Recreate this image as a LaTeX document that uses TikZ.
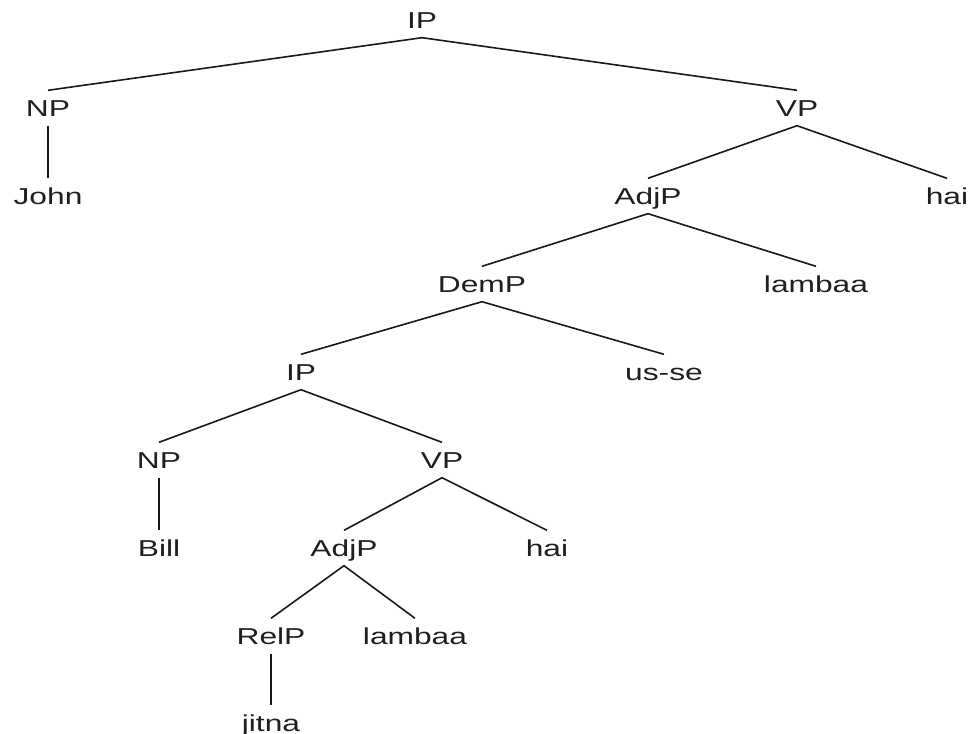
\documentclass[tikz,border=0pt]{standalone}
\usepackage{fontspec}
\setmainfont{Liberation Sans}[FakeStretch=1.38]
\begin{document}
\begin{tikzpicture}[x=1pt,y=-1pt,
  cat/.style={inner sep=0pt, minimum height=35pt, text height=16.5pt, text depth=0pt,
              font=\fontsize{23}{27}\selectfont, text=black!88},
  edge/.style={line width=1.6pt, black!90}]
  \useasboundingbox (0,0) rectangle (971,733);

  % phrase labels and words, one row every 88 units
  \node[cat] (ip)     at (422,20)  {IP};
  \node[cat] (np)     at (48,108)  {NP};
  \node[cat] (vp)     at (797,108) {VP};
  \node[cat] (john)   at (48,196)  {John};
  \node[cat] (adjp)   at (648,196) {AdjP};
  \node[cat] (hai)    at (947,196) {hai};
  \node[cat] (demp)   at (482,284) {DemP};
  \node[cat] (lamb)   at (816,284) {lambaa};
  \node[cat] (ipb)    at (301,372) {IP};
  \node[cat] (usse)   at (664,372) {us-se};
  \node[cat] (npb)    at (159,460) {NP};
  \node[cat] (vpb)    at (442,460) {VP};
  \node[cat] (bill)   at (159,548) {Bill};
  \node[cat] (adjpb)  at (344,548) {AdjP};
  \node[cat] (haib)   at (547,548) {hai};
  \node[cat] (relp)   at (271,636) {RelP};
  \node[cat] (lambb)  at (415,636) {lambaa};
  \node[cat] (jitna)  at (271,723) {jitna};

  % branches
  \draw[edge] (np.north) -- (ip.south) -- (vp.north);
  \draw[edge] (np.south) -- (john.north);
  \draw[edge] (adjp.north) -- (vp.south) -- (hai.north);
  \draw[edge] (demp.north) -- (adjp.south) -- (lamb.north);
  \draw[edge] (ipb.north) -- (demp.south) -- (usse.north);
  \draw[edge] (npb.north) -- (ipb.south) -- (vpb.north);
  \draw[edge] (npb.south) -- (bill.north);
  \draw[edge] (adjpb.north) -- (vpb.south) -- (haib.north);
  \draw[edge] (relp.north) -- (adjpb.south) -- (lambb.north);
  \draw[edge] (relp.south) -- (jitna.north);
\end{tikzpicture}
\end{document}
